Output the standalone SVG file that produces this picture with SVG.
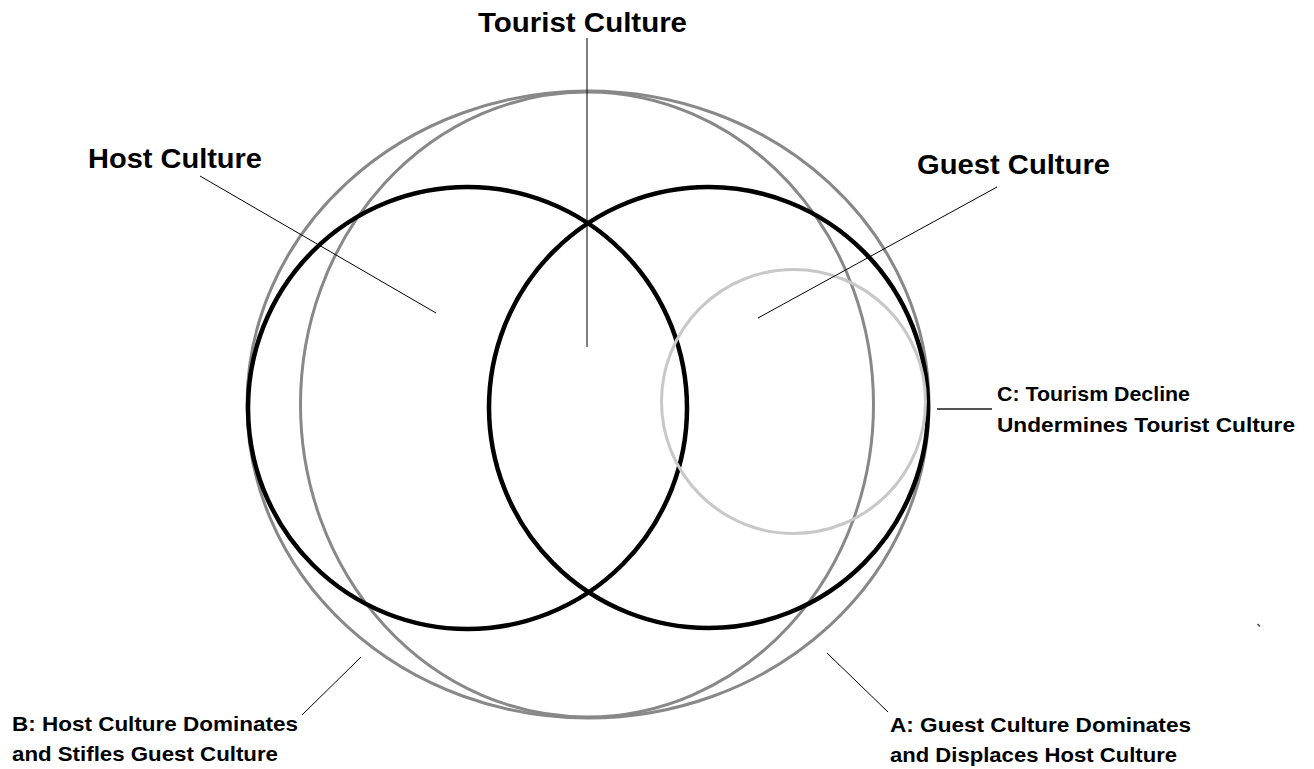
<svg xmlns="http://www.w3.org/2000/svg" width="1314" height="769" viewBox="0 0 1314 769">
<style>
.bg{fill:#ffffff}
.black{fill:none;stroke:#000;stroke-width:4.5}
.gray{fill:none;stroke:#888;stroke-width:3}
.light{fill:none;stroke:#c8c8c8;stroke-width:3}
.lead{fill:none;stroke:#000;stroke-width:1}
.leadc{fill:none;stroke:#555;stroke-width:2}
.title{font-family:"Liberation Sans",Arial,sans-serif;font-weight:bold;font-size:28px;fill:#000}
.label{font-family:"Liberation Sans",Arial,sans-serif;font-weight:bold;font-size:21px;fill:#000}
</style>
<rect class="bg" x="0" y="0" width="1314" height="769"/>
<g id="tourist-culture">
<ellipse class="gray" cx="588" cy="404.5" rx="341" ry="313.5"/>
<ellipse class="gray" cx="587" cy="404.5" rx="286.5" ry="312.5"/>
<text class="title" x="478" y="32" textLength="209" lengthAdjust="spacingAndGlyphs">Tourist Culture</text>
</g>
<g id="host-culture">
<ellipse class="black" cx="467.5" cy="408" rx="219.5" ry="221"/>
<text class="title" x="88" y="168" textLength="174" lengthAdjust="spacingAndGlyphs">Host Culture</text>
</g>
<g id="guest-culture">
<ellipse class="black" cx="708.5" cy="407.5" rx="219.5" ry="220.5"/>
<text class="title" x="917" y="174" textLength="193" lengthAdjust="spacingAndGlyphs">Guest Culture</text>
</g>
<g id="tourism-decline">
<circle class="light" cx="793.5" cy="401.5" r="132"/>
</g>
<g id="label-c">
<text class="label" x="997" y="401" textLength="193" lengthAdjust="spacingAndGlyphs">C: Tourism Decline</text>
<text class="label" x="997" y="432" textLength="298" lengthAdjust="spacingAndGlyphs">Undermines Tourist Culture</text>
</g>
<g id="label-b">
<text class="label" x="12" y="731" textLength="286" lengthAdjust="spacingAndGlyphs">B: Host Culture Dominates</text>
<text class="label" x="12" y="761" textLength="266" lengthAdjust="spacingAndGlyphs">and Stifles Guest Culture</text>
</g>
<g id="label-a">
<text class="label" x="890" y="732" textLength="301" lengthAdjust="spacingAndGlyphs">A: Guest Culture Dominates</text>
<text class="label" x="890" y="762" textLength="287" lengthAdjust="spacingAndGlyphs">and Displaces Host Culture</text>
</g>
<g id="connectors">
<line class="lead" x1="587" y1="38" x2="587" y2="347"/>
<line class="lead" x1="200" y1="176" x2="436" y2="313"/>
<line class="lead" x1="997" y1="187" x2="758" y2="318"/>
<line class="leadc" x1="937" y1="409" x2="992" y2="409"/>
<line class="lead" x1="361" y1="657" x2="302" y2="715"/>
<line class="lead" x1="827" y1="653" x2="888" y2="712"/>
<path d="M1257.5 624 L1260 626.5" stroke="#444" stroke-width="1.5" fill="none"/>
</g>
</svg>
